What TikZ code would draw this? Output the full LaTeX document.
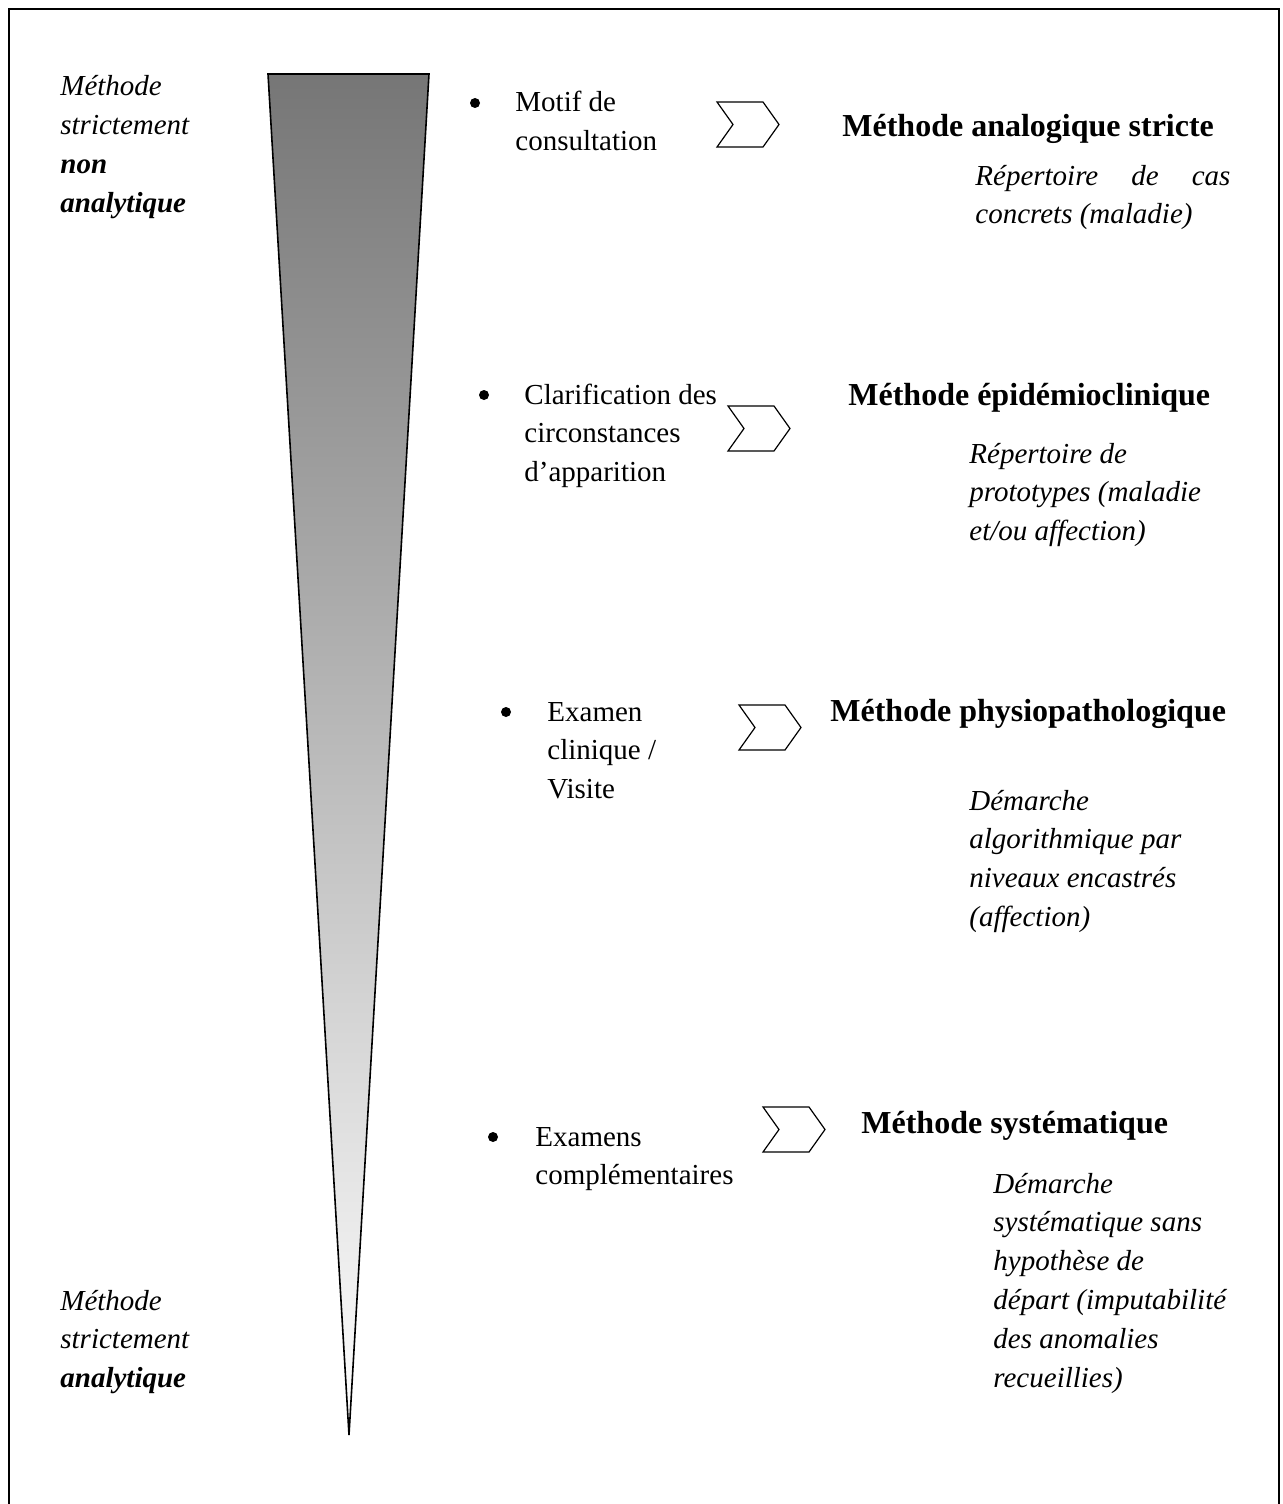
\documentclass[tikz,border=0pt]{standalone}
\usepackage{fontspec}
\setmainfont{Liberation Serif}
\usepackage{tikz}
\usetikzlibrary{calc}
\definecolor{wedgegray}{HTML}{767676}
\newcommand{\lines}[1]{\begin{tabular}[t]{@{}l@{}}#1\end{tabular}}

\begin{document}
\begin{tikzpicture}[x=0.5pt,y=-0.5pt,
  txt/.style={inner sep=0pt,anchor=base west,font=\fontsize{14.5}{19.4}\selectfont},
  itxt/.style={txt,font=\fontsize{14.5}{19.4}\selectfont\itshape},
  head/.style={inner sep=0pt,anchor=base west,font=\fontsize{16}{19.4}\selectfont\bfseries},
  dot/.style={circle,fill,inner sep=0pt,minimum size=5pt}]
  \useasboundingbox (0,0) rectangle (1282,1504);
  \draw[line width=1pt] (9,1504) |- (1279,9) -- (1279,1504);
  % wedge from non analytique (top) to analytique (tip)
  \shade[top color=wedgegray,bottom color=white] (268,74) -- (429,74) -- (349,1435) -- cycle;
  \draw[line width=0.8pt] (268,74) -- (429,74) -- (349,1435) -- cycle;
  \node[itxt] (topnote) at (60,96) {\lines{Méthode\\strictement\\\textbf{non}\\\textbf{analytique}}};
  \node[itxt] (botnote) at (60,1310) {\lines{Méthode\\strictement\\\textbf{analytique}}};
  % steps of the consultation
  \foreach \bx/\tx/\by/\name/\lbl in {475/515/112/motif/{Motif de\\consultation},
      484/524/404/clarif/{Clarification des\\circonstances\\d’apparition},
      506/547/721/examen/{Examen\\clinique /\\Visite},
      493/535/1146/compl/{Examens\\complémentaires}} {
    \node[dot] (\name-dot) at (\bx,\by-9) {};
    \node[txt] (\name) at (\tx,\by) {\lines{\lbl}};
  }
  \foreach \cx/\cy in {717/124.5,728/428.5,739/727.5,763/1129.5}
    \draw[line width=0.6pt] (\cx,\cy-22.5) -- ++(46,0) -- ++(16,22.5) -- ++(-16,22.5) -- ++(-46,0) -- ++(16,-22.5) -- cycle;
  % methods
  \node[head] (analog) at (842,136) {Méthode analogique stricte};
  \node[head] (epidem) at (848,405) {Méthode épidémioclinique};
  \node[head] (physio) at (830,721) {Méthode physiopathologique};
  \node[head] (system) at (861,1133) {Méthode systématique};
  \node[itxt] (cases) at (975,185) {\lines{\makebox[127.5pt][s]{Répertoire de cas}\\concrets (maladie)}};
  \node[itxt] (protos) at (969,463) {\lines{Répertoire de\\prototypes (maladie\\et/ou affection)}};
  \node[itxt] (algo) at (969,810) {\lines{Démarche\\algorithmique par\\niveaux encastrés\\(affection)}};
  \node[itxt] (sans) at (993,1193) {\lines{Démarche\\systématique sans\\hypothèse de\\départ (imputabilité\\des anomalies\\recueillies)}};
\end{tikzpicture}
\end{document}
